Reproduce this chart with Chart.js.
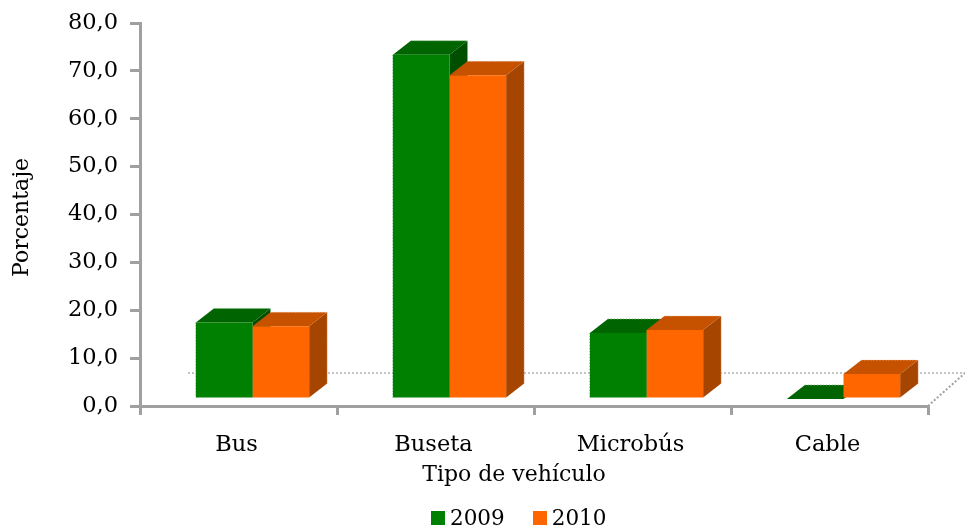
<!DOCTYPE html>
<html>
<head>
<meta charset="utf-8">
<style>
  html, body { margin: 0; padding: 0; background: #fff; }
  #wrap { position: relative; width: 965px; height: 526px; overflow: hidden; }
  canvas { display: block; }
  #legend { position: absolute; left: 431px; top: 505px; display: flex; font: 21.5px/26px "DejaVu Serif", serif; color: #000; }
  #legend span.item { display: flex; align-items: center; margin-right: 28px; }
  #legend i { display: block; width: 14px; height: 14px; margin-right: 5px; }
</style>
<script src="https://cdn.jsdelivr.net/npm/chart.js@4/dist/chart.umd.min.js"></script>
</head>
<body>
<div id="wrap">
  <canvas id="chart" width="965" height="526"></canvas>
  <div id="legend"></div>
</div>
<script>
const categories = ['Bus', 'Buseta', 'Microbús', 'Cable'];
const values2009 = [16.0, 71.9, 13.8, 0];
const values2010 = [15.2, 67.6, 14.4, 5.2];
const seriesNames = ['2009', '2010'];
const seriesColors = ['#008000', '#ff6600'];
const yTicks = [0, 10, 20, 30, 40, 50, 60, 70, 80];

const fontFamily = '"DejaVu Serif", serif';
const axisGrey = '#a0a0a0';

// fake 3D: every bar sits on a floor shifted from the axes
const shiftX = 14, shiftY = -7, depthX = 18, depthY = 14;
const faces = [
    { top: '#006400', side: '#004f00', edge: '#7fbf7f' },
    { top: '#c65200', side: '#a54500', edge: '#f0b48a' }
];

function poly(ctx, pts, fill) {
    ctx.beginPath();
    pts.forEach((p, i) => i ? ctx.lineTo(p[0], p[1]) : ctx.moveTo(p[0], p[1]));
    ctx.closePath();
    ctx.fillStyle = fill;
    ctx.fill();
}

const box3d = {
    id: 'box3d',
    beforeDatasetsDraw(chart) {
        const { ctx, scales } = chart;
        const zero = scales.y.getPixelForValue(0);
        const right = scales.x.right;
        const floorY = zero - 33;

        // back edge of the floor and its side
        ctx.save();
        ctx.strokeStyle = '#c4c4c4';
        ctx.lineWidth = 2;
        ctx.setLineDash([2, 2]);
        ctx.beginPath();
        ctx.moveTo(scales.x.left + 48, floorY);
        ctx.lineTo(chart.width, floorY);
        ctx.stroke();
        ctx.beginPath();
        ctx.moveTo(right, zero);
        ctx.lineTo(chart.width, floorY);
        ctx.strokeStyle = axisGrey;
        ctx.stroke();
        ctx.restore();

        ctx.save();
        ctx.translate(shiftX, shiftY);
        categories.forEach((c, i) => {
            [0, 1].forEach(ds => {
                const bar = chart.getDatasetMeta(ds).data[i];
                const l = bar.x - bar.width / 2, r = bar.x + bar.width / 2;
                const t = bar.y, b = bar.base;
                poly(ctx, [[r, t], [r + depthX, t - depthY], [r + depthX, b - depthY], [r, b]], faces[ds].side);
                poly(ctx, [[l, t], [l + depthX, t - depthY], [r + depthX, t - depthY], [r, t]], faces[ds].top);

                // the source image has a dotted pale outline on the outer edges
                ctx.strokeStyle = faces[ds].edge;
                ctx.lineWidth = 1;
                ctx.setLineDash([1, 2]);
                ctx.beginPath();
                ctx.moveTo(l + depthX, t - depthY);
                ctx.lineTo(r + depthX, t - depthY);
                ctx.lineTo(r + depthX, b - depthY);
                if (ds === 0) {
                    ctx.moveTo(l, t);
                    ctx.lineTo(l, b);
                }
                ctx.stroke();
                ctx.setLineDash([]);
            });
        });
        ctx.restore();

        ctx.save();
        ctx.translate(shiftX, shiftY);
    },
    afterDatasetsDraw(chart) {
        chart.ctx.restore();
    },
    // axis titles sit off-centre in the original, so they are drawn here
    afterDraw(chart) {
        const { ctx, scales } = chart;
        ctx.save();
        ctx.fillStyle = '#000';
        ctx.font = '22px ' + fontFamily;
        ctx.textAlign = 'center';
        ctx.textBaseline = 'middle';
        ctx.fillText('Tipo de vehículo', scales.x.getPixelForValue(1.5) - 20, scales.y.bottom + 69);
        ctx.translate(22, scales.y.getPixelForValue(40) + 3);
        ctx.rotate(-Math.PI / 2);
        ctx.fillText('Porcentaje', 0, 0);
        ctx.restore();
    }
};

new Chart(document.getElementById('chart'), {
    type: 'bar',
    plugins: [box3d],
    data: {
        labels: categories,
        datasets: [
            { label: seriesNames[0], data: values2009, backgroundColor: seriesColors[0], clip: false },
            { label: seriesNames[1], data: values2010, backgroundColor: seriesColors[1], clip: false }
        ]
    },
    options: {
        responsive: false,
        animation: false,
        barPercentage: 1,
        categoryPercentage: 0.575,
        layout: { padding: { top: 23, right: 37, left: 0, bottom: 0 } },
        plugins: {
            tooltip: { enabled: false },
            legend: { display: false }
        },
        scales: {
            x: {
                afterFit(axis) { axis.height = 120; axis.paddingLeft = 0; axis.paddingRight = 0; },
                border: { color: axisGrey, width: 3 },
                grid: { drawOnChartArea: false, color: axisGrey, lineWidth: 3, tickLength: 9 },
                ticks: { color: '#000', padding: 17, labelOffset: -2, maxRotation: 0, font: { family: fontFamily, size: 22.5 } }
            },
            y: {
                min: 0,
                max: 80,
                afterFit(axis) { axis.width = 140; axis.paddingTop = 0; axis.paddingBottom = 0; },
                afterBuildTicks(axis) { axis.ticks = yTicks.map(v => ({ value: v })); },
                border: { color: axisGrey, width: 3 },
                grid: { drawOnChartArea: false, color: axisGrey, lineWidth: 3, tickLength: 10 },
                ticks: {
                    color: '#000',
                    padding: 12,
                    font: { family: fontFamily, size: 22.5 },
                    callback: v => v.toFixed(1).replace('.', ',')
                }
            }
        }
    }
});

document.getElementById('legend').innerHTML = seriesNames.map((name, i) =>
    `<span class="item"><i style="background:${seriesColors[i]}"></i>${name}</span>`
).join('');
</script>
</body>
</html>
